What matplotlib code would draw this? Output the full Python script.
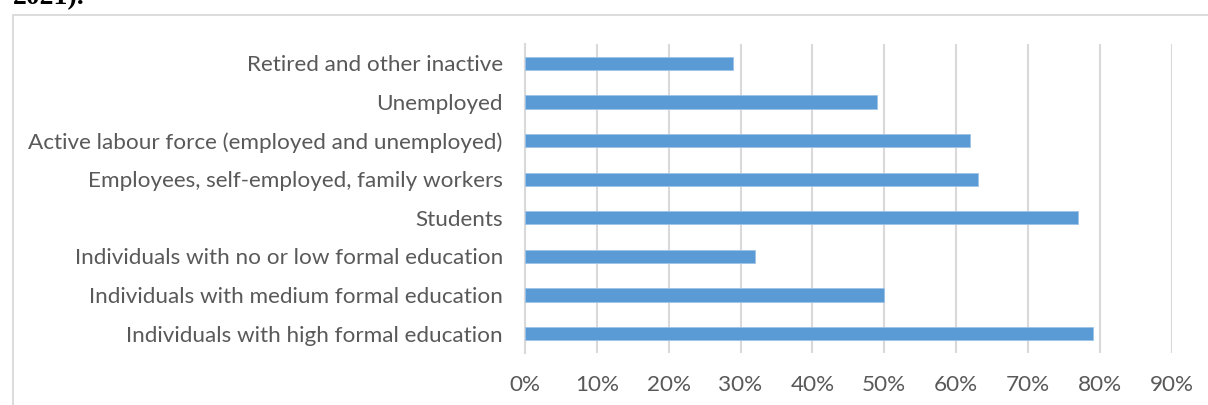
import matplotlib
matplotlib.use("Agg")
import matplotlib.pyplot as plt
from matplotlib.patches import Rectangle
from matplotlib.ticker import PercentFormatter

# Share of individuals (%) by group, listed top to bottom
categories = [
    "Retired and other inactive",
    "Unemployed",
    "Active labour force (employed and unemployed)",
    "Employees, self-employed, family workers",
    "Students",
    "Individuals with no or low formal education",
    "Individuals with medium formal education",
    "Individuals with high formal education",
]
values = [29, 49, 62, 63, 77, 32, 50, 79]
x_ticks = [0, 10, 20, 30, 40, 50, 60, 70, 80, 90]

W, H = 1208, 405
fig = plt.figure(figsize=(W / 100, H / 100), dpi=100)
fig.patch.set_facecolor("white")

text_color = "#595959"
grid_color = "#d9d9d9"
bar_color = "#5b9bd5"
font = ["Lato", "DejaVu Sans"]

# Chart frame
fig.patches.append(Rectangle((13 / W, -0.1), 1.2, 1 - 15 / H + 0.1,
                             transform=fig.transFigure, fill=False,
                             edgecolor=grid_color, linewidth=1.3, zorder=0))

# Tail of the preceding caption line
fig.text(13 / W, 1 - 4 / H, "2021).", family="Liberation Serif",
         fontweight="bold", fontsize=20, va="baseline", ha="left", color="black")

ax = fig.add_axes([525 / W, 1 - 353 / H, (1171.6 - 525) / W, (353 - 44) / H])
ypos = list(range(len(categories)))
ax.barh(ypos, values, height=0.34, color=bar_color,
        edgecolor="#9dc3e6", linewidth=0.6, zorder=3)
ax.set_ylim(len(categories) - 0.5, -0.5)
ax.set_xlim(0, 90)
ax.set_xticks(x_ticks)
ax.xaxis.set_major_formatter(PercentFormatter(decimals=0))
ax.set_yticks(ypos)
ax.set_yticklabels(categories)

ax.grid(axis="x", color=grid_color, linewidth=1.5, zorder=0)
ax.set_axisbelow(True)
for s in ["top", "right", "bottom"]:
    ax.spines[s].set_visible(False)
ax.spines["left"].set_color(grid_color)
ax.spines["left"].set_linewidth(1.5)

ax.tick_params(axis="both", length=0, colors=text_color, labelsize=16.2)
ax.tick_params(axis="y", pad=16)
ax.tick_params(axis="x", pad=16)
for lbl in ax.get_xticklabels() + ax.get_yticklabels():
    lbl.set_fontfamily(font)

fig.savefig("out.png", dpi=100)
